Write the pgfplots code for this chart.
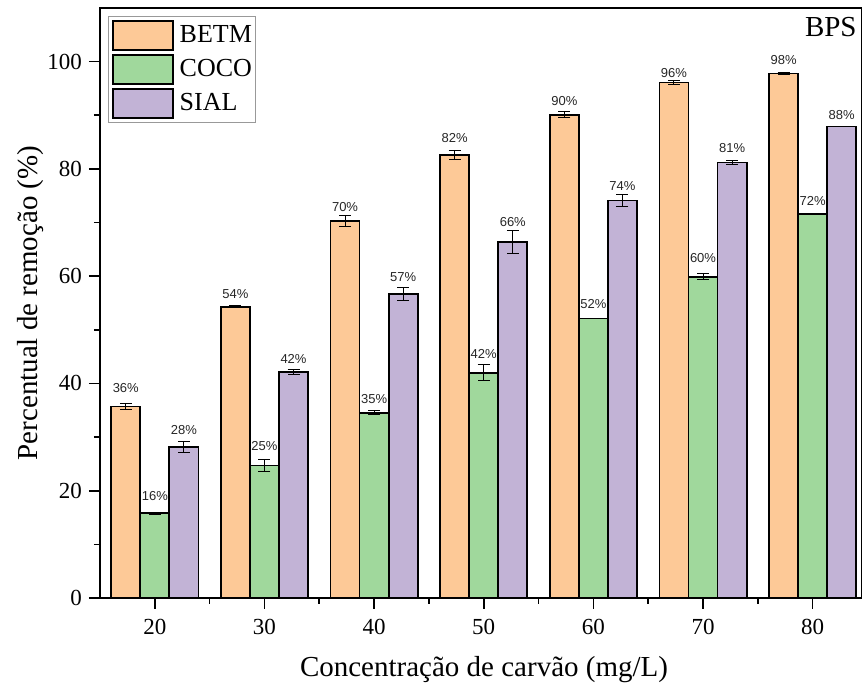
\documentclass[border=0pt]{standalone}
\usepackage{pgfplots}
\pgfplotsset{compat=1.18}
\usepackage{pgfplotstable}
\usepackage{fontspec}
\setmainfont{Liberation Serif}
\newfontfamily\arial{Liberation Sans}
\definecolor{cbetm}{RGB}{253,201,151}
\definecolor{ccoco}{RGB}{160,216,156}
\definecolor{csial}{RGB}{194,179,214}

\pgfplotstableread{
x y err lab off
20 35.7 0.5 36 6.35
30 54.3 0.2 54 3.7
40 70.3 1.0 70 4.0
50 82.6 0.9 82 5.65
60 90.1 0.6 90 3.85
70 96.1 0.4 96 2.2
80 97.8 0.2 98 3.85
}\betm
\pgfplotstableread{
x y err lab off
20 15.8 0.2 16 5.8
30 24.7 1.1 25 6.85
40 34.5 0.37 35 4.15
50 42.0 1.5 42 6.5
60 52.1 0.0 52 4.5
70 59.9 0.6 60 6.35
80 71.6 0.0 72 3.65
}\coco
\pgfplotstableread{
x y err lab off
20 28.2 1.0 28 5.5
30 42.2 0.47 42 3.5
40 56.7 1.25 57 5.65
50 66.4 2.1 66 7.35
60 74.1 1.1 74 4.5
70 81.2 0.3 81 4.35
80 87.9 0.0 88 3.0
}\sial

\pgfplotsset{
  mybar/.style={draw=black, line width=0.9pt,
    nodes near coords={\pgfplotspointmeta\%},
    point meta=explicit symbolic,
    visualization depends on={\thisrow{off} \as \loff},
    nodes near coords style={font=\arial\fontsize{6.5}{7}\selectfont, text=black!85,
      anchor=south, inner sep=0pt, yshift=\loff pt},
    error bars/y dir=both, error bars/y explicit,
    error bars/error bar style={line width=0.5pt, black},
    error bars/error mark options={rotate=90, line width=0.5pt, mark size=3pt, black}},
}

\begin{document}
\begin{tikzpicture}
\begin{axis}[
  scale only axis,
  width=381pt, height=295pt,
  ybar=0pt, bar width=2.65,
  xmin=15, xmax=84.5, ymin=0, ymax=110,
  xtick={20,30,...,80}, ytick={0,20,...,100},
  minor xtick={25,35,...,75}, minor ytick={10,30,...,90},
  tick align=outside, tick pos=left,
  major tick length=5.5pt, minor tick length=3pt,
  every tick/.style={black, line width=0.8pt},
  axis line style={line width=0.9pt},
  /pgf/number format/assume math mode=true,
  ticklabel style={font=\fontsize{11.5}{13}\selectfont},
  xticklabel style={yshift=-1.5pt},
  xlabel={Concentração de carvão (mg/L)},
  ylabel={Percentual de remoção (\%)},
  xlabel style={font=\fontsize{14.5}{17}\selectfont, at={([xshift=1.5pt,yshift=-39.5pt]axis description cs:0.5,0)}, anchor=base},
  ylabel style={font=\fontsize{14.5}{17}\selectfont, at={([xshift=-34.5pt]axis description cs:0,0.5)}, anchor=center},
  legend cell align=left,
  legend image code/.code={\draw[#1,line width=0.9pt] (0pt,-7.25pt) rectangle (29.7pt,7.25pt);},
  legend style={at={(rel axis cs:0,1)}, anchor=north west, xshift=4pt, yshift=-4pt,
    draw=gray!80, line width=0.5pt, inner xsep=2pt, inner ysep=1.7pt,
    row sep=1.75pt, column sep=3pt, font=\fontsize{13}{15}\selectfont,
    nodes={inner sep=0pt, anchor=west}},
]
\addplot[mybar, fill=cbetm] table[x=x, y=y, y error=err, meta=lab]{\betm};
\addplot[mybar, fill=ccoco] table[x=x, y=y, y error=err, meta=lab]{\coco};
\addplot[mybar, fill=csial] table[x=x, y=y, y error=err, meta=lab]{\sial};
\legend{BETM,COCO,SIAL}
\node[anchor=base east, font=\fontsize{14.5}{17}\selectfont, inner sep=0pt] at ([xshift=-2.5pt, yshift=-14.5pt]rel axis cs:1,1) {BPS};
\coordinate (sw) at (rel axis cs:0,0);
\coordinate (ne) at (rel axis cs:1,1);
\end{axis}
\pgfresetboundingbox
\useasboundingbox ([shift={(-50pt,-45.5pt)}]sw) rectangle ([shift={(0pt,4pt)}]ne);
\end{tikzpicture}
\end{document}
